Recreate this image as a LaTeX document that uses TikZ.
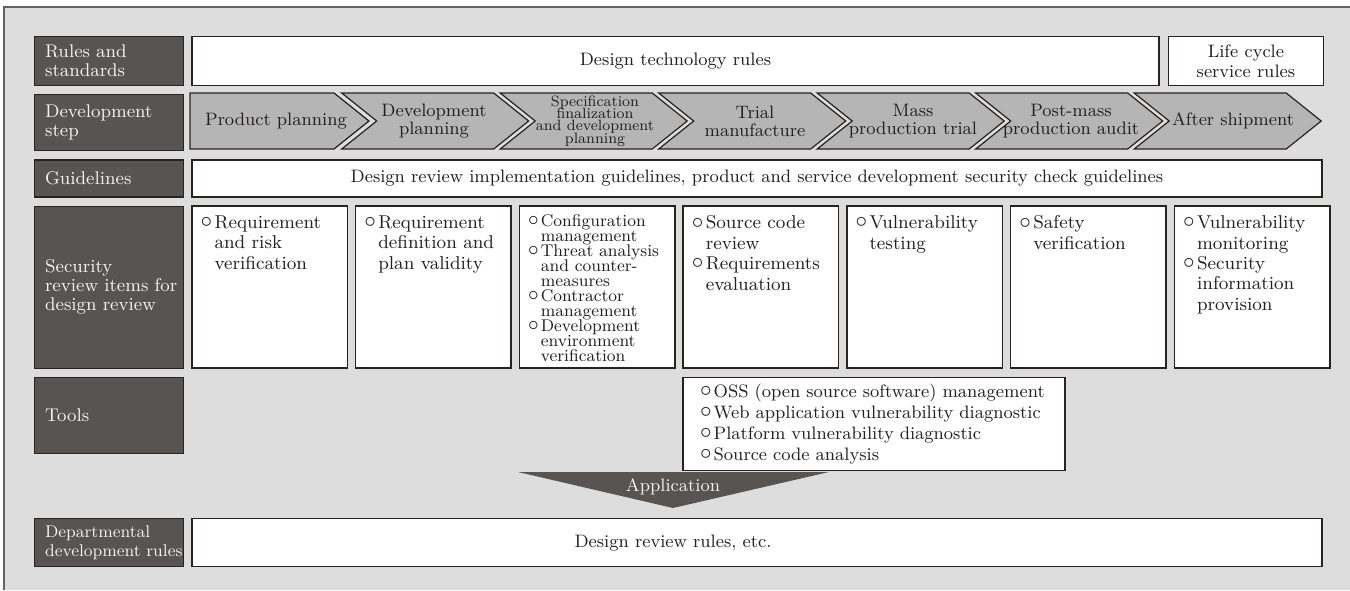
\documentclass[tikz,border=0pt]{standalone}
\usepackage{graphicx}
\usepackage{tikz}
\usetikzlibrary{positioning}

\definecolor{panel}{RGB}{220,221,220}
\definecolor{frameline}{RGB}{100,98,96}
\definecolor{headfill}{RGB}{87,84,82}
\definecolor{headtext}{RGB}{242,242,242}
\definecolor{edge}{RGB}{40,35,33}
\definecolor{stepfill}{RGB}{181,181,181}
\definecolor{ink}{RGB}{35,31,32}

% open circle bullet and the matching hanging indent
\newcommand{\ci}{\makebox[0.75em][l]{\raisebox{0.12ex}{\scalebox{1.25}{$\circ$}}}}
\newcommand{\ind}{\hspace*{0.75em}}
% keep the fixed line spacing even when lines crowd each other
\newcommand{\tightlines}{\setlength{\lineskiplimit}{-5pt}}

\begin{document}
\begin{tikzpicture}[x=.5pt, y=.5pt,
					every node/.style={text=ink},
					rowhead/.style={draw=edge, line width=.6pt, fill=headfill, text=headtext,
						text width=64pt, inner xsep=5.25pt, align=left,
						font=\fontsize{9.2}{9.5}\selectfont},
					textbox/.style={draw=edge, line width=.75pt, fill=white, inner sep=0pt,
						align=center, font=\fontsize{9}{10}\selectfont},
					itembox/.style={draw=edge, line width=.75pt, fill=white,
						minimum width=77.75pt, minimum height=81pt, inner sep=0pt},
					itemtext/.style={anchor=north west, align=left, inner sep=0pt,
						font=\fontsize{9.3}{10.2}\selectfont\tightlines},
					stepshape/.style={draw=edge, line width=.6pt, fill=stepfill},
					steptext/.style={align=center, inner sep=0pt, font=\fontsize{9}{9}\selectfont\tightlines}
				]
				\useasboundingbox (0,0) rectangle (1350,-590);
				\fill[white] (0,0) rectangle (1350,-590);
				\fill[panel] (4,-7) rectangle (1350,-590);
				\draw[frameline, line width=.75pt] (4,-590) -- (4,-7) -- (1350,-7);
				
				% row headings
				\node[rowhead, minimum height=24.5pt, anchor=north west] (rules) at (34,-36) {Rules and\\standards};
				\node[rowhead, minimum height=28pt, below=4pt of rules] (step) {Development\\step};
				\node[rowhead, minimum height=18.5pt, below=4pt of step] (guide) {Guidelines};
				\node[rowhead, minimum height=81pt, below=4pt of guide] (review) {Security\\\mbox{review items for}\\design review};
				\node[rowhead, minimum height=38pt, below=4pt of review] (tools) {Tools};
				\node[rowhead, minimum height=24pt, below=32pt of tools, font=\fontsize{8.5}{9.3}\selectfont] (dept) {Departmental\\\mbox{development rules}};
				
				% rules and guidelines
				\node[textbox, minimum width=483.5pt, minimum height=24.5pt, right=3.5pt of rules] (techrules) {Design technology rules};
				\node[textbox, minimum width=77.5pt, minimum height=24.5pt, right=4pt of techrules] (lcrules) {Life cycle\\service rules};
				\node[textbox, minimum width=565pt, minimum height=18.5pt, right=3.5pt of guide] (guidetext) {Design review implementation guidelines, product and service development security check guidelines};
				
				% development steps
				\draw[stepshape] (190,-93) -- (334,-93) -- (369,-121) -- (334,-149) -- (190,-149) -- cycle;
				\foreach \k in {0,...,5} {
					\pgfmathsetmacro\xs{341.7+158.5*\k}
					\draw[stepshape] (\xs,-93) -- ++(152,0) -- ++(35,-28) -- ++(-35,-28) -- ++(-152,0) -- ++(35,28) -- cycle;
				}
				\node[steptext] (plan) at (276,-121) {Product planning};
				\node[steptext] (devplan) at (434,-121) {Development\\planning};
				\node[steptext, font=\fontsize{7.5}{6.2}\selectfont\tightlines] (spec) at (595,-121) {Specification\\finalization\\and development\\planning};
				\node[steptext] (trial) at (755,-121) {Trial\\manufacture};
				\node[steptext] (mass) at (913,-121) {Mass\\production trial};
				\node[steptext] (audit) at (1071,-121) {Post-mass\\production audit};
				\node[steptext] (ship) at (1233,-121) {After shipment};
				
				% review items
				\node[itembox, right=3.5pt of review] (rev1) {};
				\node[itembox, right=3.375pt of rev1] (rev2) {};
				\node[itembox, right=3.375pt of rev2] (rev3) {};
				\node[itembox, right=3.375pt of rev3] (rev4) {};
				\node[itembox, right=3.375pt of rev4] (rev5) {};
				\node[itembox, right=3.375pt of rev5] (rev6) {};
				\node[itembox, right=3.375pt of rev6] (rev7) {};
				\node[itemtext] at ([xshift=4.5pt, yshift=-5pt]rev1.north west) {\ci Requirement\\\ind and risk\\\ind verification};
				\node[itemtext] at ([xshift=4.5pt, yshift=-5pt]rev2.north west) {\ci Requirement\\\ind definition and\\\ind plan validity};
				\node[itemtext, font=\fontsize{8.5}{7.5}\selectfont\tightlines] at ([xshift=4.5pt, yshift=-4.5pt]rev3.north west) {\ci Configuration\\\ind management\\\ci Threat analysis\\\ind and counter-\\\ind measures\\\ci Contractor\\\ind management\\\ci Development\\\ind environment\\\ind verification};
				\node[itemtext] at ([xshift=4.5pt, yshift=-5pt]rev4.north west) {\ci Source code\\\ind review\\\ci Requirements\\\ind evaluation};
				\node[itemtext] at ([xshift=4.5pt, yshift=-5pt]rev5.north west) {\ci Vulnerability\\\ind testing};
				\node[itemtext] at ([xshift=4.5pt, yshift=-5pt]rev6.north west) {\ci Safety\\\ind verification};
				\node[itemtext] at ([xshift=4.5pt, yshift=-5pt]rev7.north west) {\ci Vulnerability\\\ind monitoring\\\ci Security\\\ind information\\\ind provision};
				
				% tools and how they are applied
				\node[textbox, anchor=north west, align=left, text width=174pt, inner xsep=8.5pt, minimum height=46.5pt,
					font=\fontsize{9}{10.4}\selectfont] (toolbox) at (rev4.south west |- tools.north)
					{\ci OSS (open source software) management\\\ci Web application vulnerability diagnostic\\\ci Platform vulnerability diagnostic\\\ci Source code analysis};
				\fill[headfill] (518,-472) -- (829,-472) -- (673,-508) -- cycle;
				\node[text=headtext, font=\fontsize{9}{10}\selectfont] (apply) at (673,-487) {Application};
				
				\node[textbox, minimum width=565pt, minimum height=24pt, right=3.5pt of dept] (deptrules) {};
				\node[font=\fontsize{9}{10}\selectfont] (deptrulestext) at (apply |- deptrules.center) {Design review rules, etc.};
			\end{tikzpicture}
\end{document}
